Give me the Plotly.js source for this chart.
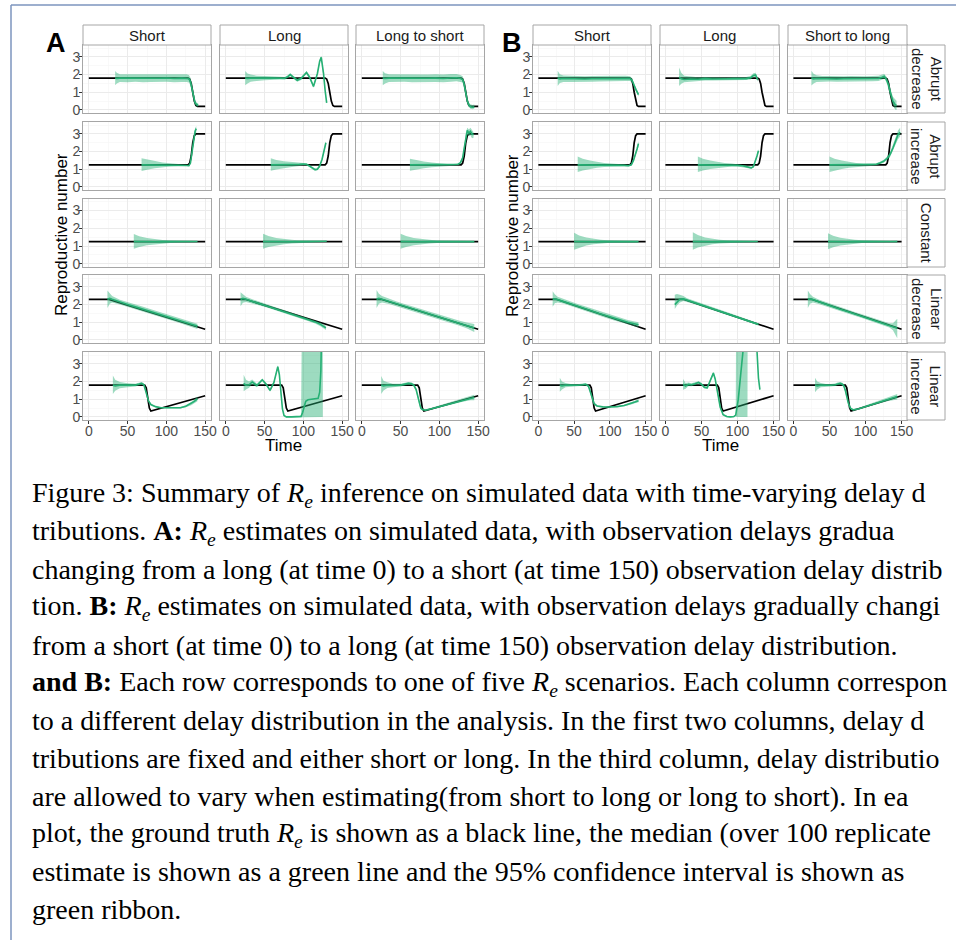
<!DOCTYPE html>
<html><head><meta charset="utf-8">
<script src="https://cdn.plot.ly/plotly-3.0.1.min.js"></script>
<style>html,body{margin:0;padding:0;background:#fff;overflow:hidden}#chart{width:956px;height:940px}</style>
</head><body><div id="chart"></div><script>
// ---------- categories / labels ----------
const colLabelsA = ["Short", "Long", "Long to short"];
const colLabelsB = ["Short", "Long", "Short to long"];
const rowLabels = ["Abrupt<br>decrease", "Abrupt<br>increase", "Constant", "Linear<br>decrease", "Linear<br>increase"];
const xTicks = [0, 50, 100, 150];
const xMinor = [25, 75, 125];
const yTicks = [0, 1, 2, 3];
const yMinor = [0.5, 1.5, 2.5, 3.5];
const xTitle = "Time";
const yTitle = "Reproductive number";
const captionLines = [
  "Figure 3: Summary of <i>R<sub>e</sub></i> inference on simulated data with time-varying delay d",
  "tributions. <b>A:</b> <i>R<sub>e</sub></i> estimates on simulated data, with observation delays gradua",
  "changing from a long (at time 0) to a short (at time 150) observation delay distrib",
  "tion. <b>B:</b> <i>R<sub>e</sub></i> estimates on simulated data, with observation delays gradually changi",
  "from a short (at time 0) to a long (at time 150) observation delay distribution.",
  "<b>and B:</b> Each row corresponds to one of five <i>R<sub>e</sub></i> scenarios. Each column correspon",
  "to a different delay distribution in the analysis. In the first two columns, delay d",
  "tributions are fixed and either short or long. In the third column, delay distributio",
  "are allowed to vary when estimating(from short to long or long to short). In ea",
  "plot, the ground truth <i>R<sub>e</sub></i> is shown as a black line, the median (over 100 replicate",
  "estimate is shown as a green line and the 95% confidence interval is shown as",
  "green ribbon."
];

// ---------- ground truth ----------
const TRUTH_AD_t = [0,128,130,132,134,136,138,140,150];
const TRUTH_AD   = [1.8,1.8,1.75,1.5,1.0,0.5,0.25,0.2,0.2];
const TRUTH_AI_t = [0,128,130,132,134,136,138,150];
const TRUTH_AI   = [1.25,1.25,1.35,1.75,2.5,2.9,3.0,3.0];
const TRUTH_C_t  = [0,150];
const TRUTH_C    = [1.25,1.25];
const TRUTH_LD_t = [0,25,150];
const TRUTH_LD   = [2.3,2.3,0.6];
const TRUTH_LI_t = [0,72,74,76,78,80,150];
const TRUTH_LI   = [1.8,1.8,1.65,1.0,0.5,0.33,1.2];

// ---------- Panel A estimates ----------
const A_AD_S_t   = [34,36,40,50,60,70,80,90,100,110,120,126,129,131,133,135,137,139,141];
const A_AD_S_med = [1.80,1.78,1.80,1.79,1.81,1.78,1.80,1.79,1.81,1.78,1.80,1.79,1.76,1.60,1.20,0.70,0.40,0.30,0.27];
const A_AD_S_lo  = [1.40,1.50,1.58,1.57,1.60,1.56,1.58,1.57,1.60,1.56,1.58,1.58,1.55,1.38,0.98,0.52,0.28,0.20,0.18];
const A_AD_S_hi  = [2.20,2.10,2.02,2.02,2.04,2.00,2.03,2.01,2.04,2.00,2.03,2.02,1.98,1.82,1.42,0.90,0.55,0.42,0.38];

const A_AD_L_t   = [25,28,32,40,50,60,70,76,80,83,87,92,97,101,104,108,113,118,121,123,126,128,130];
const A_AD_L_med = [1.80,1.78,1.80,1.79,1.80,1.81,1.80,1.79,1.88,2.00,1.85,1.68,1.78,2.00,2.12,1.85,1.33,2.05,2.75,2.98,2.05,1.10,0.40];
const A_AD_L_lo  = [1.40,1.50,1.60,1.64,1.68,1.71,1.72,1.71,1.80,1.92,1.77,1.60,1.70,1.92,2.04,1.77,1.25,1.97,2.67,2.90,1.97,1.02,0.32];
const A_AD_L_hi  = [2.20,2.06,2.00,1.94,1.92,1.91,1.88,1.87,1.96,2.08,1.93,1.76,1.86,2.08,2.20,1.93,1.41,2.13,2.83,3.06,2.13,1.18,0.48];

const A_AD_LS_t   = [27,30,35,45,55,65,75,85,95,105,115,122,127,130,132,134,136,138,140,143,145];
const A_AD_LS_med = [1.80,1.78,1.80,1.79,1.81,1.78,1.80,1.79,1.80,1.78,1.81,1.82,1.78,1.72,1.45,0.95,0.50,0.28,0.18,0.15,0.17];
const A_AD_LS_lo  = [1.40,1.50,1.58,1.57,1.60,1.56,1.58,1.57,1.58,1.56,1.59,1.62,1.58,1.55,1.28,0.78,0.36,0.16,0.06,0.04,0.08];
const A_AD_LS_hi  = [2.20,2.08,2.02,2.01,2.03,2.00,2.02,2.01,2.02,2.00,2.03,2.04,1.98,1.90,1.62,1.12,0.66,0.42,0.32,0.28,0.30];

const A_AI_S_t   = [68,75,85,95,105,115,122,126,129,131,133,135,137,138.5];
const A_AI_S_med = [1.25,1.25,1.25,1.24,1.25,1.24,1.23,1.21,1.20,1.35,1.95,2.65,3.15,3.30];
const A_AI_S_lo  = [0.90,0.97,1.05,1.11,1.15,1.18,1.19,1.18,1.17,1.28,1.85,2.50,2.98,3.10];
const A_AI_S_hi  = [1.62,1.55,1.46,1.38,1.34,1.30,1.28,1.25,1.24,1.42,2.05,2.80,3.32,3.45];

const A_AI_L_t   = [58,65,75,85,95,100,104,108,112,115,118,121,124,127,129];
const A_AI_L_med = [1.25,1.25,1.26,1.27,1.28,1.30,1.28,1.18,1.04,0.98,1.00,1.18,1.55,2.10,2.50];
const A_AI_L_lo  = [0.92,0.99,1.07,1.13,1.18,1.23,1.22,1.12,0.98,0.92,0.94,1.12,1.48,2.02,2.42];
const A_AI_L_hi  = [1.62,1.53,1.45,1.41,1.38,1.37,1.34,1.24,1.10,1.04,1.06,1.24,1.62,2.18,2.58];

const A_AI_LS_t   = [62,70,80,90,100,110,118,124,127,130,132,134,136,138,140,142,144];
const A_AI_LS_med = [1.25,1.25,1.25,1.24,1.24,1.24,1.25,1.28,1.36,1.65,2.20,2.85,3.20,3.05,3.15,3.00,2.95];
const A_AI_LS_lo  = [0.92,0.99,1.06,1.11,1.15,1.18,1.20,1.22,1.30,1.55,2.05,2.65,3.00,2.85,2.92,2.75,2.78];
const A_AI_LS_hi  = [1.60,1.52,1.44,1.38,1.33,1.30,1.30,1.33,1.43,1.75,2.35,3.05,3.35,3.25,3.35,3.20,3.10];

const A_C_S_t   = [58,65,75,85,95,105,115,125,135,140];
const A_C_S_med = [1.26,1.25,1.25,1.24,1.25,1.25,1.25,1.25,1.26,1.26];
const A_C_S_lo  = [0.85,0.95,1.05,1.11,1.15,1.18,1.20,1.22,1.23,1.23];
const A_C_S_hi  = [1.68,1.56,1.45,1.38,1.34,1.32,1.30,1.28,1.28,1.29];

const A_C_L_t   = [48,55,65,75,85,95,105,115,125,130];
const A_C_L_med = [1.26,1.25,1.25,1.25,1.24,1.25,1.25,1.26,1.26,1.27];
const A_C_L_lo  = [0.85,0.95,1.05,1.11,1.15,1.18,1.20,1.22,1.23,1.24];
const A_C_L_hi  = [1.70,1.57,1.46,1.39,1.35,1.32,1.30,1.30,1.29,1.30];

const A_C_LS_t   = [50,57,67,77,87,97,107,117,127,137,145];
const A_C_LS_med = [1.26,1.25,1.25,1.24,1.25,1.25,1.25,1.25,1.25,1.25,1.25];
const A_C_LS_lo  = [0.85,0.95,1.05,1.11,1.15,1.18,1.20,1.21,1.22,1.22,1.21];
const A_C_LS_hi  = [1.70,1.57,1.46,1.39,1.35,1.32,1.30,1.29,1.28,1.28,1.29];

const A_LD_S_t   = [24,27,30,40,50,60,70,80,90,100,110,120,130,140];
const A_LD_S_med = [2.30,2.35,2.30,2.14,2.01,1.87,1.74,1.60,1.46,1.33,1.19,1.06,0.92,0.78];
const A_LD_S_lo  = [1.80,2.05,2.12,2.00,1.86,1.72,1.60,1.46,1.32,1.19,1.05,0.92,0.78,0.62];
const A_LD_S_hi  = [2.80,2.62,2.48,2.28,2.16,2.02,1.88,1.74,1.60,1.47,1.33,1.20,1.06,0.92];

const A_LD_L_t   = [19,22,26,35,45,55,65,75,85,95,105,115,122,129];
const A_LD_L_med = [2.28,2.35,2.30,2.17,2.03,1.89,1.75,1.61,1.46,1.32,1.17,1.02,0.88,0.68];
const A_LD_L_lo  = [1.90,2.10,2.15,2.05,1.93,1.80,1.66,1.52,1.37,1.23,1.08,0.93,0.78,0.56];
const A_LD_L_hi  = [2.70,2.58,2.45,2.29,2.13,1.98,1.84,1.70,1.55,1.41,1.26,1.11,0.98,0.80];

const A_LD_LS_t   = [19,22,26,35,45,55,65,75,85,95,105,115,125,135,140,145];
const A_LD_LS_med = [2.30,2.35,2.30,2.18,2.04,1.91,1.77,1.64,1.50,1.36,1.23,1.09,0.96,0.82,0.75,0.68];
const A_LD_LS_lo  = [1.80,2.05,2.12,2.04,1.91,1.78,1.64,1.51,1.37,1.23,1.10,0.96,0.82,0.66,0.56,0.45];
const A_LD_LS_hi  = [2.82,2.62,2.48,2.32,2.17,2.04,1.90,1.77,1.63,1.49,1.36,1.22,1.10,0.98,0.94,0.90];

const A_LI_S_t   = [31,34,40,50,60,65,68,71,73,75,77,80,86,93,100,110,118,125,132,136,140];
const A_LI_S_med = [1.80,1.76,1.80,1.78,1.80,1.86,1.90,1.82,1.55,1.20,0.90,0.70,0.58,0.52,0.51,0.50,0.52,0.60,0.75,0.88,1.02];
const A_LI_S_lo  = [1.30,1.48,1.62,1.68,1.72,1.78,1.82,1.74,1.47,1.12,0.84,0.65,0.54,0.49,0.48,0.47,0.48,0.54,0.66,0.76,0.88];
const A_LI_S_hi  = [2.35,2.10,1.98,1.90,1.88,1.94,1.98,1.90,1.63,1.28,0.96,0.75,0.62,0.55,0.54,0.53,0.56,0.66,0.84,0.98,1.15];

const A_LI_L_t   = [23,26,30,34,40,44,47,52,57,62,65,67,69,71,73,75,78,85,92,97,99,101,103,106,110,115,119,121,122.5,123.5,125];
const A_LI_L_med = [1.90,1.80,1.82,1.98,1.78,1.95,2.10,1.85,1.50,1.95,2.55,2.85,2.40,1.30,0.45,0.08,0.00,0.00,0.00,0.03,0.25,0.65,0.88,0.97,0.99,1.00,1.05,1.40,2.60,5.00,8.00];
const A_LI_L_lo  = [1.45,1.55,1.65,1.85,1.68,1.86,2.02,1.77,1.42,1.87,2.47,2.77,2.32,1.22,0.40,0.05,-0.03,-0.03,-0.03,-0.02,0.00,0.00,0.00,0.00,0.00,0.00,0.00,0.00,0.00,0.00,0.00];
const A_LI_L_hi  = [2.38,2.10,2.00,2.12,1.88,2.04,2.18,1.93,1.58,2.03,2.63,2.93,2.48,1.38,0.50,0.11,0.03,0.03,0.03,0.08,10,10,10,10,10,10,10,10,10,10,10];

const A_LI_LS_t   = [25,28,33,40,50,56,60,64,67,70,72,74,76,78,82,90,100,110,120,130,140,145];
const A_LI_LS_med = [1.80,1.76,1.80,1.78,1.80,1.85,1.90,1.88,1.80,1.55,1.15,0.75,0.50,0.42,0.38,0.46,0.58,0.71,0.84,0.96,1.06,1.10];
const A_LI_LS_lo  = [1.30,1.50,1.64,1.68,1.72,1.77,1.82,1.80,1.72,1.47,1.07,0.67,0.44,0.37,0.33,0.40,0.51,0.63,0.75,0.86,0.94,0.95];
const A_LI_LS_hi  = [2.32,2.05,1.96,1.88,1.88,1.93,1.98,1.96,1.88,1.63,1.23,0.83,0.56,0.48,0.44,0.52,0.65,0.79,0.93,1.06,1.18,1.25];

// ---------- Panel B estimates ----------
const B_AD_S_t   = [27,30,35,45,55,65,75,85,95,105,115,122,128,131,134,137,140];
const B_AD_S_med = [1.80,1.76,1.78,1.76,1.77,1.75,1.76,1.77,1.75,1.76,1.77,1.78,1.77,1.68,1.35,1.10,0.86];
const B_AD_S_lo  = [1.35,1.52,1.58,1.58,1.60,1.58,1.60,1.61,1.59,1.60,1.62,1.63,1.63,1.56,1.24,0.98,0.76];
const B_AD_S_hi  = [2.22,2.02,1.95,1.93,1.93,1.91,1.92,1.93,1.91,1.92,1.92,1.93,1.91,1.80,1.46,1.22,0.96];

const B_AD_L_t   = [19,22,26,35,45,55,65,75,85,95,105,112,118,122,125,128];
const B_AD_L_med = [1.85,1.76,1.72,1.75,1.74,1.77,1.75,1.76,1.74,1.77,1.76,1.77,1.82,1.95,1.98,1.70];
const B_AD_L_lo  = [1.35,1.48,1.56,1.62,1.64,1.67,1.66,1.67,1.66,1.68,1.68,1.69,1.72,1.85,1.88,1.60];
const B_AD_L_hi  = [2.40,2.10,1.93,1.88,1.85,1.87,1.85,1.85,1.83,1.86,1.85,1.86,1.92,2.07,2.10,1.82];

const B_AD_SL_t   = [25,28,32,40,50,60,70,80,90,100,110,118,123,126,129,132,135,138,141,143];
const B_AD_SL_med = [1.80,1.76,1.78,1.76,1.77,1.75,1.76,1.77,1.75,1.76,1.77,1.78,1.85,1.90,1.72,1.40,0.90,0.50,0.30,0.25];
const B_AD_SL_lo  = [1.38,1.50,1.58,1.60,1.61,1.60,1.61,1.62,1.60,1.61,1.62,1.63,1.70,1.76,1.58,1.22,0.68,0.25,0.02,0.00];
const B_AD_SL_hi  = [2.22,2.05,1.96,1.92,1.92,1.90,1.91,1.92,1.90,1.91,1.92,1.93,2.00,2.04,1.88,1.58,1.12,0.75,0.60,0.52];

const B_AI_S_t   = [55,62,72,82,92,102,112,120,126,130,133,136,138,140];
const B_AI_S_med = [1.25,1.25,1.25,1.24,1.24,1.24,1.23,1.22,1.20,1.25,1.50,1.85,2.15,2.45];
const B_AI_S_lo  = [0.85,0.93,1.02,1.08,1.13,1.16,1.17,1.17,1.16,1.20,1.42,1.75,2.02,2.28];
const B_AI_S_hi  = [1.72,1.60,1.49,1.41,1.36,1.32,1.29,1.27,1.25,1.30,1.58,1.95,2.28,2.60];

const B_AI_L_t   = [45,52,62,72,82,92,100,107,112,116,119,122,125,127,129];
const B_AI_L_med = [1.25,1.25,1.25,1.24,1.24,1.23,1.22,1.20,1.16,1.10,1.08,1.15,1.45,1.75,2.05];
const B_AI_L_lo  = [0.85,0.93,1.02,1.08,1.12,1.15,1.16,1.15,1.11,1.05,1.03,1.10,1.38,1.66,1.95];
const B_AI_L_hi  = [1.72,1.60,1.49,1.41,1.36,1.32,1.28,1.25,1.21,1.15,1.13,1.21,1.52,1.84,2.15];

const B_AI_SL_t   = [50,57,67,77,87,97,107,115,120,125,130,134,138,142,145,148];
const B_AI_SL_med = [1.25,1.25,1.25,1.24,1.24,1.24,1.25,1.28,1.35,1.45,1.62,1.83,2.20,2.67,2.95,3.10];
const B_AI_SL_lo  = [0.85,0.93,1.02,1.08,1.13,1.16,1.19,1.22,1.28,1.37,1.52,1.70,2.02,2.45,2.70,2.85];
const B_AI_SL_hi  = [1.72,1.60,1.49,1.41,1.36,1.32,1.31,1.34,1.42,1.53,1.72,1.96,2.38,2.90,3.20,3.35];

const B_C_S_t   = [50,57,67,77,87,97,107,117,127,135,140];
const B_C_S_med = [1.26,1.25,1.25,1.24,1.25,1.25,1.25,1.25,1.25,1.25,1.25];
const B_C_S_lo  = [0.80,0.92,1.03,1.10,1.14,1.17,1.19,1.21,1.22,1.22,1.22];
const B_C_S_hi  = [1.75,1.60,1.48,1.40,1.36,1.33,1.31,1.29,1.28,1.28,1.28];

const B_C_L_t   = [38,45,55,65,75,85,95,105,115,122,128];
const B_C_L_med = [1.26,1.25,1.25,1.24,1.25,1.25,1.25,1.25,1.25,1.26,1.26];
const B_C_L_lo  = [0.80,0.92,1.03,1.10,1.14,1.17,1.19,1.21,1.22,1.23,1.23];
const B_C_L_hi  = [1.78,1.62,1.49,1.41,1.36,1.33,1.31,1.29,1.28,1.29,1.29];

const B_C_SL_t   = [48,55,65,75,85,95,105,115,125,135,144];
const B_C_SL_med = [1.26,1.25,1.25,1.24,1.25,1.25,1.25,1.25,1.25,1.25,1.26];
const B_C_SL_lo  = [0.82,0.94,1.04,1.10,1.14,1.17,1.19,1.21,1.22,1.22,1.20];
const B_C_SL_hi  = [1.72,1.58,1.47,1.40,1.36,1.33,1.31,1.29,1.28,1.28,1.30];

const B_LD_S_t   = [20,23,27,35,45,55,65,75,85,95,105,115,125,133,140];
const B_LD_S_med = [2.30,2.32,2.28,2.18,2.04,1.91,1.77,1.64,1.50,1.36,1.23,1.12,1.00,0.92,0.86];
const B_LD_S_lo  = [1.88,2.08,2.12,2.06,1.92,1.79,1.65,1.52,1.38,1.24,1.11,0.99,0.87,0.79,0.72];
const B_LD_S_hi  = [2.75,2.58,2.45,2.32,2.17,2.04,1.90,1.77,1.63,1.49,1.36,1.25,1.13,1.06,1.00];

const B_LD_L_t   = [13,16,20,25,30,40,50,60,70,80,90,100,110,120,129];
const B_LD_L_med = [2.00,2.15,2.30,2.32,2.25,2.12,1.98,1.85,1.71,1.57,1.43,1.29,1.16,1.02,0.88];
const B_LD_L_lo  = [1.75,1.95,2.12,2.20,2.15,2.04,1.91,1.78,1.64,1.50,1.36,1.23,1.10,0.96,0.82];
const B_LD_L_hi  = [2.55,2.60,2.55,2.48,2.36,2.21,2.06,1.93,1.79,1.65,1.51,1.36,1.23,1.09,0.95];

const B_LD_SL_t   = [20,23,27,35,45,55,65,75,85,95,105,115,125,133,138,141,144];
const B_LD_SL_med = [2.30,2.32,2.28,2.16,2.02,1.88,1.74,1.61,1.47,1.34,1.20,1.06,0.92,0.82,0.74,0.70,0.66];
const B_LD_SL_lo  = [1.80,2.05,2.12,2.04,1.91,1.77,1.64,1.51,1.37,1.24,1.10,0.96,0.82,0.70,0.55,0.35,0.10];
const B_LD_SL_hi  = [2.80,2.60,2.45,2.29,2.14,1.99,1.85,1.72,1.58,1.45,1.31,1.17,1.03,0.95,0.95,1.05,1.20];

const B_LI_S_t   = [30,33,38,45,55,62,66,70,72,75,78,82,90,100,110,120,130,135,140];
const B_LI_S_med = [1.80,1.76,1.80,1.78,1.79,1.82,1.85,1.75,1.50,1.00,0.75,0.62,0.57,0.56,0.58,0.65,0.76,0.84,0.92];
const B_LI_S_lo  = [1.42,1.55,1.68,1.70,1.73,1.76,1.78,1.67,1.42,0.92,0.70,0.58,0.54,0.53,0.55,0.61,0.70,0.77,0.83];
const B_LI_S_hi  = [2.22,2.00,1.92,1.86,1.85,1.88,1.92,1.83,1.58,1.08,0.80,0.66,0.60,0.59,0.61,0.69,0.82,0.91,1.01];

const B_LI_L_t   = [24.5,28,32,36,41,46,50,54,58,62,66.5,69,71,73,76,80,85,90,95,97.5,98.5,101,104.6,108,112,113.8,114.2,118,124,127,129,131];
const B_LI_L_med = [1.85,1.75,1.85,1.82,1.88,1.95,1.85,1.68,1.65,2.05,2.48,2.15,1.70,1.20,0.55,0.13,0.02,0.00,0.02,0.10,0.30,0.98,2.49,3.80,6.00,7.00,7.00,8.00,6.00,3.20,2.20,1.55];
const B_LI_L_lo  = [1.54,1.60,1.75,1.74,1.80,1.88,1.78,1.61,1.58,1.98,2.40,2.07,1.62,1.12,0.48,0.08,-0.02,-0.03,-0.02,0.05,0.00,0.00,0.00,0.00,0.00,0.00,10,10,10,10,10,10];
const B_LI_L_hi  = [2.14,1.92,1.95,1.90,1.96,2.02,1.92,1.75,1.72,2.12,2.56,2.23,1.78,1.28,0.62,0.18,0.06,0.03,0.06,0.15,10,10,10,10,10,10,10,10,10,10,10,10];

const B_LI_SL_t   = [30,33,38,45,52,58,62,65,68,70,72,74,76,79,83,90,100,110,120,130,138,144];
const B_LI_SL_med = [1.80,1.76,1.80,1.78,1.79,1.82,1.88,1.90,1.85,1.75,1.50,1.15,0.80,0.50,0.40,0.45,0.58,0.72,0.85,0.98,1.08,1.15];
const B_LI_SL_lo  = [1.40,1.55,1.68,1.70,1.72,1.75,1.80,1.82,1.77,1.67,1.42,1.07,0.73,0.45,0.36,0.40,0.52,0.65,0.77,0.88,0.95,0.98];
const B_LI_SL_hi  = [2.22,2.00,1.92,1.86,1.86,1.89,1.96,1.98,1.93,1.83,1.58,1.23,0.87,0.55,0.44,0.50,0.64,0.79,0.93,1.08,1.20,1.30];

// ---------- assemble ----------
const truthT = [TRUTH_AD_t, TRUTH_AI_t, TRUTH_C_t, TRUTH_LD_t, TRUTH_LI_t];
const truthV = [TRUTH_AD, TRUTH_AI, TRUTH_C, TRUTH_LD, TRUTH_LI];
const estA = [
  [[A_AD_S_t,A_AD_S_med,A_AD_S_lo,A_AD_S_hi],[A_AD_L_t,A_AD_L_med,A_AD_L_lo,A_AD_L_hi],[A_AD_LS_t,A_AD_LS_med,A_AD_LS_lo,A_AD_LS_hi]],
  [[A_AI_S_t,A_AI_S_med,A_AI_S_lo,A_AI_S_hi],[A_AI_L_t,A_AI_L_med,A_AI_L_lo,A_AI_L_hi],[A_AI_LS_t,A_AI_LS_med,A_AI_LS_lo,A_AI_LS_hi]],
  [[A_C_S_t,A_C_S_med,A_C_S_lo,A_C_S_hi],[A_C_L_t,A_C_L_med,A_C_L_lo,A_C_L_hi],[A_C_LS_t,A_C_LS_med,A_C_LS_lo,A_C_LS_hi]],
  [[A_LD_S_t,A_LD_S_med,A_LD_S_lo,A_LD_S_hi],[A_LD_L_t,A_LD_L_med,A_LD_L_lo,A_LD_L_hi],[A_LD_LS_t,A_LD_LS_med,A_LD_LS_lo,A_LD_LS_hi]],
  [[A_LI_S_t,A_LI_S_med,A_LI_S_lo,A_LI_S_hi],[A_LI_L_t,A_LI_L_med,A_LI_L_lo,A_LI_L_hi],[A_LI_LS_t,A_LI_LS_med,A_LI_LS_lo,A_LI_LS_hi]]
];
const estB = [
  [[B_AD_S_t,B_AD_S_med,B_AD_S_lo,B_AD_S_hi],[B_AD_L_t,B_AD_L_med,B_AD_L_lo,B_AD_L_hi],[B_AD_SL_t,B_AD_SL_med,B_AD_SL_lo,B_AD_SL_hi]],
  [[B_AI_S_t,B_AI_S_med,B_AI_S_lo,B_AI_S_hi],[B_AI_L_t,B_AI_L_med,B_AI_L_lo,B_AI_L_hi],[B_AI_SL_t,B_AI_SL_med,B_AI_SL_lo,B_AI_SL_hi]],
  [[B_C_S_t,B_C_S_med,B_C_S_lo,B_C_S_hi],[B_C_L_t,B_C_L_med,B_C_L_lo,B_C_L_hi],[B_C_SL_t,B_C_SL_med,B_C_SL_lo,B_C_SL_hi]],
  [[B_LD_S_t,B_LD_S_med,B_LD_S_lo,B_LD_S_hi],[B_LD_L_t,B_LD_L_med,B_LD_L_lo,B_LD_L_hi],[B_LD_SL_t,B_LD_SL_med,B_LD_SL_lo,B_LD_SL_hi]],
  [[B_LI_S_t,B_LI_S_med,B_LI_S_lo,B_LI_S_hi],[B_LI_L_t,B_LI_L_med,B_LI_L_lo,B_LI_L_hi],[B_LI_SL_t,B_LI_SL_med,B_LI_SL_lo,B_LI_SL_hi]]
];

const W = 956, H = 940;
const PX = v => v / W, PY = v => 1 - v / H;
const SANS = "Liberation Sans, Arial, Helvetica, sans-serif";
const SERIF = "Liberation Serif, Times New Roman, serif";
const colsA = [[83,211],[220,348],[356,484]];
const colsB = [[533,651],[660,779],[788,907]];
const rowsPx = [[45,113],[122,190],[198.5,267],[275,343],[352,420]];
const GREEN = "rgb(38,176,116)";
const RIBBON = "rgba(38,176,116,0.45)";
const BORDER = "#a6a6a6";

const traces = [];
const layout = {
  width: W, height: H, autosize: false,
  margin: {l:0, r:0, t:0, b:0, pad:0},
  paper_bgcolor: "#fff", plot_bgcolor: "#fff",
  showlegend: false, shapes: [], annotations: []
};

let k = 0;
function addPanel(cols, est, r, c) {
  k++;
  const xn = k === 1 ? "xaxis" : "xaxis" + k, yn = k === 1 ? "yaxis" : "yaxis" + k;
  const xr = k === 1 ? "x" : "x" + k, yr = k === 1 ? "y" : "y" + k;
  const bottom = r === 4, left = c === 0;
  layout[xn] = {
    domain: [PX(cols[c][0]), PX(cols[c][1])], anchor: yr,
    range: [-7.5, 157.5], tickmode: "array", tickvals: xTicks, ticktext: xTicks.map(String),
    showticklabels: bottom, ticks: bottom ? "outside" : "", ticklen: 3, tickcolor: "#333", tickwidth: 1,
    tickangle: 0, ticklabelstandoff: -5,
    tickfont: {family: SANS, size: 14, color: "#4d4d4d"},
    showgrid: true, gridcolor: "#ebebeb", gridwidth: 1,
    minor: {tickvals: xMinor, showgrid: true, gridcolor: "#f6f6f6", gridwidth: 0.7, ticks: ""},
    zeroline: false, showline: true, mirror: true, linecolor: BORDER, linewidth: 1, fixedrange: true
  };
  layout[yn] = {
    domain: [PY(rowsPx[r][1]), PY(rowsPx[r][0])], anchor: xr,
    range: [-0.175, 3.675], tickmode: "array", tickvals: yTicks, ticktext: yTicks.map(String),
    showticklabels: left, ticks: left ? "outside" : "", ticklen: 3, tickcolor: "#333", tickwidth: 1,
    tickangle: 0, ticklabelstandoff: -4,
    tickfont: {family: SANS, size: 14, color: "#4d4d4d"},
    showgrid: true, gridcolor: "#ebebeb", gridwidth: 1,
    minor: {tickvals: yMinor, showgrid: true, gridcolor: "#f6f6f6", gridwidth: 0.7, ticks: ""},
    zeroline: false, showline: true, mirror: true, linecolor: BORDER, linewidth: 1, fixedrange: true
  };
  traces.push({type: "scatter", mode: "lines", x: truthT[r], y: truthV[r], xaxis: xr, yaxis: yr,
    line: {color: "#000", width: 1.7}, hoverinfo: "skip"});
  const [t, med, lo, hi] = est[r][c];
  traces.push({type: "scatter", mode: "lines", x: t.concat(t.slice().reverse()),
    y: hi.concat(lo.slice().reverse()), fill: "toself", fillcolor: RIBBON,
    line: {width: 0, color: RIBBON}, xaxis: xr, yaxis: yr, hoverinfo: "skip"});
  traces.push({type: "scatter", mode: "lines", x: t, y: med, xaxis: xr, yaxis: yr,
    line: {color: GREEN, width: 1.6}, hoverinfo: "skip"});
}

for (let r = 0; r < 5; r++) for (let c = 0; c < 3; c++) addPanel(colsA, estA, r, c);
for (let r = 0; r < 5; r++) for (let c = 0; c < 3; c++) addPanel(colsB, estB, r, c);

function topStrips(cols, labels) {
  cols.forEach((cc, i) => {
    layout.shapes.push({type: "rect", xref: "paper", yref: "paper", x0: PX(cc[0]), x1: PX(cc[1]),
      y0: PY(45), y1: PY(25), line: {color: BORDER, width: 1}, fillcolor: "#fff", layer: "above"});
    layout.annotations.push({xref: "paper", yref: "paper", x: PX((cc[0] + cc[1]) / 2), y: PY(35),
      text: labels[i], showarrow: false, xanchor: "center", yanchor: "middle",
      font: {family: SANS, size: 15, color: "#1a1a1a"}});
  });
}
topStrips(colsA, colLabelsA);
topStrips(colsB, colLabelsB);
rowsPx.forEach((rr, i) => {
  layout.shapes.push({type: "rect", xref: "paper", yref: "paper", x0: PX(907), x1: PX(945),
    y0: PY(rr[1]), y1: PY(rr[0]), line: {color: BORDER, width: 1}, fillcolor: "#fff", layer: "above"});
  layout.annotations.push({xref: "paper", yref: "paper", x: PX(926), y: PY((rr[0] + rr[1]) / 2),
    text: rowLabels[i], showarrow: false, textangle: 90, xanchor: "center", yanchor: "middle",
    font: {family: SANS, size: 15, color: "#1a1a1a"}});
});
[[283.5, 61], [720, 512]].forEach(([xc, yx]) => {
  layout.annotations.push({xref: "paper", yref: "paper", x: PX(xc), y: PY(446), text: xTitle,
    showarrow: false, xanchor: "center", yanchor: "middle", font: {family: SANS, size: 17, color: "#000"}});
  layout.annotations.push({xref: "paper", yref: "paper", x: PX(yx), y: PY(235), text: yTitle,
    showarrow: false, textangle: -90, xanchor: "center", yanchor: "middle", font: {family: SANS, size: 17, color: "#000"}});
});
[["A", 56], ["B", 512]].forEach(([l, xc]) => {
  layout.annotations.push({xref: "paper", yref: "paper", x: PX(xc), y: PY(43), text: "<b>" + l + "</b>",
    showarrow: false, xanchor: "center", yanchor: "middle", font: {family: SANS, size: 27, color: "#000"}});
});
const baselines = [503, 541, 578.5, 616, 654, 692, 729.5, 767, 805, 843, 880.5, 918];
captionLines.forEach((txt, i) => {
  layout.annotations.push({xref: "paper", yref: "paper", x: PX(30), y: PY(baselines[i] - 9), text: txt,
    showarrow: false, xanchor: "left", yanchor: "middle", align: "left",
    font: {family: SERIF, size: 28, color: "#000"}});
});
layout.shapes.push({type: "line", xref: "paper", yref: "paper", x0: PX(11), x1: PX(956), y0: PY(5), y1: PY(5),
  line: {color: "#7c95be", width: 1.5}});
layout.shapes.push({type: "line", xref: "paper", yref: "paper", x0: PX(11), x1: PX(11), y0: PY(5), y1: PY(940),
  line: {color: "#7c95be", width: 1.5}});

Plotly.newPlot("chart", traces, layout, {displayModeBar: false, staticPlot: true});
</script></body></html>
